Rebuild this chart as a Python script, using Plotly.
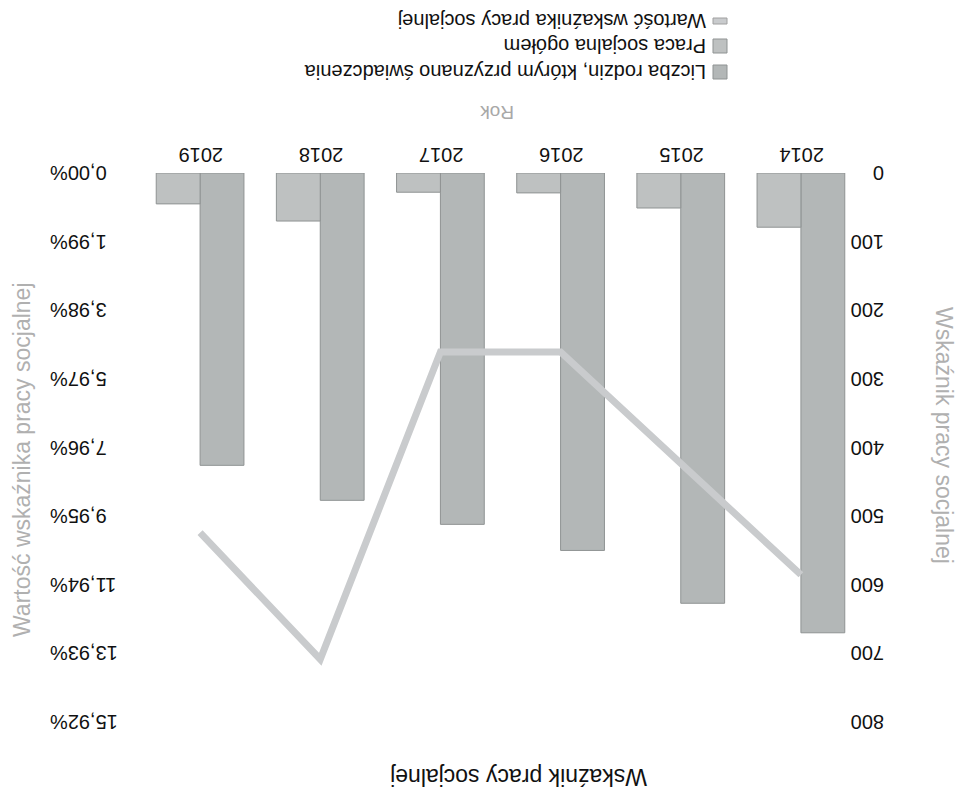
import plotly.graph_objects as go

years = ["2014", "2015", "2016", "2017", "2018", "2019"]
liczba_rodzin = [670, 627, 550, 512, 477, 426]
praca_socjalna = [79, 51, 29, 28, 70, 45]
wskaznik_pct = [11.65, 8.43, 5.19, 5.19, 14.10, 10.43]

left_ticks = [0, 100, 200, 300, 400, 500, 600, 700, 800]
pct_ticks = [0, 1.99, 3.98, 5.97, 7.96, 9.95, 11.94, 13.93, 15.92]
pct_labels = [f"{v:.2f}".replace(".", ",") + "%" for v in pct_ticks]

name_rodziny = "Liczba rodzin, którym przyznano świadczenia"
name_praca = "Praca socjalna ogółem"
name_wsk = "Wartość wskaźnika pracy socjalnej"

C_TALL = "#b3b7b7"
C_SHORT = "#bec1c1"
C_LINE = "#c9cbcd"
FONT = "Liberation Sans, Arial, sans-serif"

fig = go.Figure()
fig.add_trace(go.Bar(x=years, y=liczba_rodzin, name=name_rodziny,
                     marker=dict(color=C_TALL, line=dict(color="#8f9393", width=1))))
fig.add_trace(go.Bar(x=years, y=praca_socjalna, name=name_praca,
                     marker=dict(color=C_SHORT, line=dict(color="#8f9393", width=1))))
fig.add_trace(go.Scatter(x=years, y=wskaznik_pct, name=name_wsk, mode="lines",
                         line=dict(color=C_LINE, width=7), yaxis="y2"))

# page has an 8px body margin; figure is sized to fit the 963x796 window
OFF = 8
W, H = 963 - OFF, 796 - OFF
PL, PR, PT, PB = 140, 861, 173, 722          # plot area in page pixels
L, R, T, B = PL - OFF, W - (PR - OFF), PT - OFF, H - (PB - OFF)
pw, ph = PR - PL, PB - PT


def px(xp):
    return (xp - PL) / pw


def py(yp):
    return (PB - yp) / ph


annotations = [
    dict(text="Wskaźnik pracy socjalnej", x=px(519), y=py(777), textangle=180,
         font=dict(size=23, color="#111", family=FONT)),
    dict(text="Rok", x=px(497), y=py(113), textangle=180,
         font=dict(size=19, color="#a8a8a8", family=FONT)),
    dict(text="Wskaźnik pracy socjalnej", x=px(944), y=py(435), textangle=90,
         font=dict(size=23, color="#b0b0b0", family=FONT)),
    dict(text="Wartość wskaźnika pracy socjalnej", x=px(22), y=py(460), textangle=-90,
         font=dict(size=23, color="#b0b0b0", family=FONT)),
]
for a in annotations:
    a.update(xref="paper", yref="paper", showarrow=False, xanchor="center", yanchor="middle")

legend_rows = [(name_wsk, 21, "line"), (name_praca, 46, C_SHORT), (name_rodziny, 72, C_TALL)]
shapes = []
for text, yrow, kind in legend_rows:
    annotations.append(dict(text=text, x=px(708), y=py(yrow), xref="paper", yref="paper",
                            showarrow=False, xanchor="right", yanchor="middle", textangle=180,
                            font=dict(size=20, color="#111", family=FONT)))
    if kind == "line":
        shapes.append(dict(type="rect", xref="paper", yref="paper",
                           x0=px(713), x1=px(727), y0=py(yrow - 3), y1=py(yrow + 3),
                           fillcolor=C_LINE, line=dict(color="#a0a0a0", width=1)))
    else:
        shapes.append(dict(type="rect", xref="paper", yref="paper",
                           x0=px(713), x1=px(727), y0=py(yrow - 7), y1=py(yrow + 7),
                           fillcolor=kind, line=dict(color="#8f9393", width=1)))

fig.update_layout(
    width=W, height=H,
    margin=dict(l=L, r=R, t=T, b=B),
    paper_bgcolor="white", plot_bgcolor="white",
    barmode="group", bargap=0.27, bargroupgap=0,
    showlegend=False,
    font=dict(family=FONT, size=20, color="#111"),
    xaxis=dict(type="category", autorange="reversed", side="top", tickangle=180,
               automargin=False, ticklabelshift=-23,
               showgrid=False, zeroline=False, showline=False, ticks="",
               tickfont=dict(size=20, color="#111")),
    yaxis=dict(range=[800, 0], side="right", tickvals=left_ticks, tickangle=180,
               automargin=False, ticklabelstandoff=22, ticklabelshift=-6,
               showgrid=False, zeroline=False, showline=False, ticks="",
               tickfont=dict(size=20, color="#111")),
    yaxis2=dict(range=[15.92, 0], side="left", overlaying="y", tickvals=pct_ticks,
                ticktext=pct_labels, tickangle=180,
                automargin=False, ticklabelstandoff=89, ticklabelshift=-6,
                showgrid=False, zeroline=False, showline=False, ticks="",
                tickfont=dict(size=20, color="#111")),
    annotations=annotations,
    shapes=shapes,
)

fig.write_html("out.html")
